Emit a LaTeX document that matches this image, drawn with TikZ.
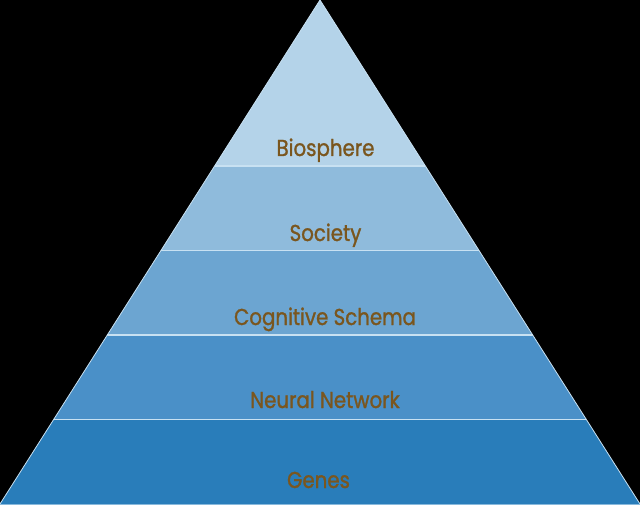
\documentclass[tikz,border=0pt]{standalone}
\usepackage{fontspec}
\newfontfamily\labfont[FakeStretch=0.86,FakeBold=1.2]{Poppins}
\definecolor{lay1}{RGB}{180,211,233}
\definecolor{lay2}{RGB}{143,187,220}
\definecolor{lay3}{RGB}{108,165,209}
\definecolor{lay4}{RGB}{74,144,200}
\definecolor{lay5}{RGB}{41,125,186}
\definecolor{sepline}{RGB}{200,225,242}
\definecolor{labcol}{RGB}{122,86,30}
\begin{document}
\begin{tikzpicture}[x=1pt,y=-1pt,
  lab/.style={anchor=base,text=labcol,font=\labfont\fontsize{23}{26}\selectfont,inner sep=0pt},
  sep/.style={draw=sepline,line width=1.4pt}]
\fill[black] (0,0) rectangle (640,505);
\useasboundingbox (0,0) rectangle (640,505);
% layer boundaries (y values), x half-width = 0.634921*y
\def\ya{166}\def\yb{250.5}\def\yc{335}\def\yd{419.5}\def\ye{504}
\coordinate (apex) at (320,0);
\coordinate (aL) at ({320-0.634921*\ya},\ya); \coordinate (aR) at ({320+0.634921*\ya},\ya);
\coordinate (bL) at ({320-0.634921*\yb},\yb); \coordinate (bR) at ({320+0.634921*\yb},\yb);
\coordinate (cL) at ({320-0.634921*\yc},\yc); \coordinate (cR) at ({320+0.634921*\yc},\yc);
\coordinate (dL) at ({320-0.634921*\yd},\yd); \coordinate (dR) at ({320+0.634921*\yd},\yd);
\coordinate (eL) at (0,\ye); \coordinate (eR) at (640,\ye);
\fill[lay1] (apex) -- (aR) -- (aL) -- cycle;
\fill[lay2] (aL) -- (aR) -- (bR) -- (bL) -- cycle;
\fill[lay3] (bL) -- (bR) -- (cR) -- (cL) -- cycle;
\fill[lay4] (cL) -- (cR) -- (dR) -- (dL) -- cycle;
\fill[lay5] (dL) -- (dR) -- (eR) -- (eL) -- cycle;
\draw[sep] (aL) -- (aR);
\draw[sep] (bL) -- (bR);
\draw[sep] (cL) -- (cR);
\draw[sep] (dL) -- (dR);
\draw[draw=sepline,line width=0.8pt] (eL) -- (apex) -- (eR);
\draw[draw=sepline!60!lay5,line width=1pt] (eL) -- (eR);
\node[lab] (bio) at (325.5,156) {Biosphere};
\node[lab] (soc) at (325.5,241) {Society};
\node[lab] (cog) at (325,325) {Cognitive Schema};
\node[lab] (neu) at (325,408) {Neural Network};
\node[lab] (gen) at (318.5,488) {Genes};
\end{tikzpicture}
\end{document}
